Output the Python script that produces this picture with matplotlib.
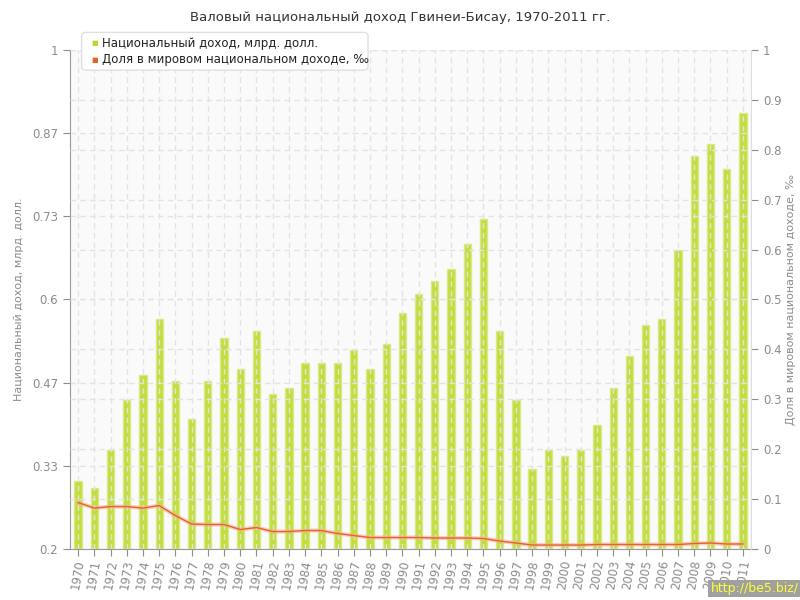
import numpy as np
import matplotlib
matplotlib.use("Agg")
import matplotlib.pyplot as plt
from matplotlib.patches import FancyBboxPatch

# данные с графика
years = list(range(1970, 2012))
income = [0.309, 0.298, 0.359, 0.439, 0.479, 0.569, 0.469, 0.408, 0.469, 0.538,
          0.489, 0.549, 0.448, 0.458, 0.498, 0.498, 0.498, 0.519, 0.489, 0.529,
          0.578, 0.609, 0.630, 0.649, 0.689, 0.729, 0.549, 0.439, 0.328, 0.359,
          0.349, 0.359, 0.399, 0.458, 0.509, 0.559, 0.569, 0.679, 0.830, 0.849,
          0.809, 0.899]
share = [0.093, 0.082, 0.085, 0.085, 0.082, 0.087, 0.067, 0.050, 0.049, 0.049,
         0.039, 0.043, 0.035, 0.035, 0.037, 0.037, 0.031, 0.027, 0.023, 0.023,
         0.023, 0.023, 0.022, 0.022, 0.022, 0.021, 0.016, 0.012, 0.008, 0.008,
         0.008, 0.008, 0.009, 0.009, 0.009, 0.009, 0.009, 0.009, 0.011, 0.012,
         0.010, 0.010]
left_ticks = [0.2, 0.3333, 0.4667, 0.6, 0.7333, 0.8667, 1.0]
left_labels = ["0.2", "0.33", "0.47", "0.6", "0.73", "0.87", "1"]
right_ticks = [0, 0.1, 0.2, 0.3, 0.4, 0.5, 0.6, 0.7, 0.8, 0.9, 1]
right_labels = ["0", "0.1", "0.2", "0.3", "0.4", "0.5", "0.6", "0.7", "0.8", "0.9", "1"]

gray = "#8c8c8c"
grid_c = "#e3e3e3"
plt.rcParams["font.family"] = ["DejaVu Sans"]

fig = plt.figure(figsize=(8, 6), dpi=100)
ax = fig.add_axes([0.0875, 0.085, 0.85125, 0.8317])
ax.set_facecolor("#fafafa")
x = np.arange(len(years))

ax.bar(x, [v - 0.2 for v in income], bottom=0.2, width=0.45,
       color="#c2de3c", edgecolor="#d6ea85", linewidth=1, zorder=1)
ax.set_xlim(-0.5, len(years) - 0.5)
ax.set_ylim(0.2, 1.0)
ax.set_yticks(left_ticks)
ax.set_yticklabels(left_labels)
ax.set_xticks(x)
ax.set_xticklabels([str(y) for y in years], rotation=80, ha="center")
ax.tick_params(colors=gray, labelsize=8.5, length=5)
ax.tick_params(axis="x", length=5, pad=2)
ax.grid(True, color=grid_c, linestyle=(0, (4, 3)), linewidth=1, zorder=2)
ax.set_axisbelow(False)
for s in ["top", "right"]:
    ax.spines[s].set_visible(False)
ax.spines["left"].set_color("#999999")
ax.spines["bottom"].set_color("#999999")
ax.set_ylabel("Национальный доход, млрд. долл.", color=gray, fontsize=8, labelpad=6)

ax2 = ax.twinx()
ax2.set_ylim(0, 1)
ax2.set_yticks(right_ticks)
ax2.set_yticklabels(right_labels)
ax2.tick_params(colors=gray, labelsize=8.5, length=5)
ax2.yaxis.grid(True, color=grid_c, linestyle=(0, (4, 3)), linewidth=1)
ax2.set_axisbelow(True)
for s in ["top", "left", "bottom"]:
    ax2.spines[s].set_visible(False)
ax2.spines["right"].set_color("#dddddd")
ax2.plot(x, share, color="#f3b49a", linewidth=3, alpha=0.6, zorder=3)
ax2.plot(x, share, color="#e8602c", linewidth=1, zorder=4)
ax2.set_ylabel("Доля в мировом национальном доходе, ‰", color=gray, fontsize=8,
               rotation=90, labelpad=3)

fig.text(0.5, 0.97, "Валовый национальный доход Гвинеи-Бисау, 1970-2011 гг.",
         ha="center", va="center", fontsize=9.5, color="#333333")

# легенда
box = FancyBboxPatch((0.106, 0.887), 0.35, 0.055, boxstyle="round,pad=0.004,rounding_size=0.006",
                     transform=fig.transFigure, facecolor="white", edgecolor="#e0e0e0",
                     linewidth=1, zorder=10)
fig.patches.append(box)
fig.text(0.114, 0.928, "■", color="#b5d832", fontsize=5, va="center", zorder=11)
fig.text(0.128, 0.928, "Национальный доход, млрд. долл.", color="#222222", fontsize=8.5,
         va="center", zorder=11)
fig.text(0.114, 0.900, "■", color="#e8602c", fontsize=5, va="center", zorder=11)
fig.text(0.128, 0.900, "Доля в мировом национальном доходе, ‰", color="#222222", fontsize=8.5,
         va="center", zorder=11)

fig.text(0.998, 0.008, "http://be5.biz/", color="#ffff33", fontsize=9, ha="right", va="bottom",
         bbox=dict(facecolor="#a0a0a0", edgecolor="none", pad=1.5))

fig.savefig("out.png", dpi=100)
